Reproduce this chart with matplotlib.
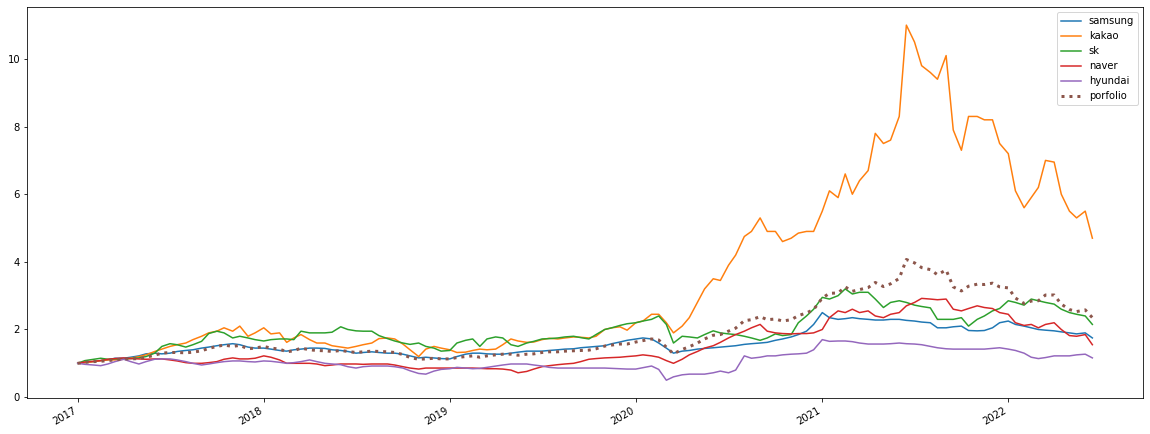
import numpy as np
import pandas as pd
import matplotlib
matplotlib.use('Agg')
import matplotlib.pyplot as plt
import matplotlib.dates as mdates

# semi-monthly sampling dates (1st and 15th), Jan 2017 - Jun 2022
dates = pd.date_range('2017-01-01', '2022-06-15', freq='SMS')

samsung = [
    1.0, 1.02, 1.05, 1.08, 1.1, 1.15, 1.15, 1.18, 1.22, 1.28, 1.3, 1.28,
    1.3, 1.35, 1.38, 1.4, 1.45, 1.48, 1.52, 1.55, 1.58, 1.55, 1.48, 1.45,
    1.45, 1.42, 1.38, 1.36, 1.4, 1.42, 1.45, 1.45, 1.44, 1.4, 1.38, 1.35,
    1.3, 1.32, 1.34, 1.32, 1.3, 1.3, 1.27, 1.22, 1.16, 1.18, 1.16, 1.14,
    1.13, 1.2, 1.27, 1.3, 1.3, 1.28, 1.27, 1.27, 1.3, 1.33, 1.36, 1.36,
    1.36, 1.38, 1.4, 1.42, 1.43, 1.46, 1.48, 1.5, 1.52, 1.58, 1.63, 1.68,
    1.72, 1.75, 1.72, 1.6, 1.45, 1.3, 1.36, 1.38, 1.42, 1.44, 1.46, 1.48,
    1.5, 1.52, 1.56, 1.58, 1.6, 1.62, 1.68, 1.72, 1.78, 1.85, 1.95, 2.15,
    2.5, 2.35, 2.3, 2.32, 2.35, 2.32, 2.3, 2.28, 2.28, 2.3, 2.3, 2.27,
    2.25, 2.22, 2.2, 2.05, 2.05, 2.08, 2.1, 1.97, 1.96, 1.97, 2.05, 2.2,
    2.25, 2.15, 2.1, 2.05, 2.0, 1.98, 1.96, 1.93, 1.9, 1.87, 1.9, 1.75,
]
kakao = [
    1.0, 1.02, 1.05, 1.08, 1.1, 1.1, 1.12, 1.15, 1.2, 1.25, 1.35, 1.42,
    1.5, 1.55, 1.6, 1.7, 1.8, 1.9, 1.95, 2.05, 1.95, 2.1, 1.8, 1.9,
    2.05, 1.87, 1.9, 1.62, 1.75, 1.85, 1.7, 1.6, 1.6, 1.52, 1.48, 1.45,
    1.5, 1.55, 1.6, 1.73, 1.75, 1.72, 1.57, 1.4, 1.2, 1.42, 1.5, 1.45,
    1.4, 1.32, 1.33, 1.38, 1.42, 1.4, 1.42, 1.55, 1.72, 1.66, 1.62, 1.63,
    1.7, 1.74, 1.72, 1.75, 1.78, 1.77, 1.75, 1.8, 2.0, 2.05, 2.08, 1.98,
    2.2, 2.25, 2.45, 2.45, 2.2, 1.9, 2.1, 2.35, 2.8, 3.2, 3.5, 3.45,
    3.9, 4.2, 4.75, 4.9, 5.3, 4.9, 4.9, 4.6, 4.7, 4.85, 4.9, 4.9,
    5.5, 6.1, 5.9, 6.6, 6.0, 6.4, 6.7, 7.8, 7.5, 7.6, 8.3, 11.0,
    10.5, 9.8, 9.6, 9.4, 10.1, 7.9, 7.3, 8.3, 8.3, 8.2, 8.2, 7.5,
    7.2, 6.1, 5.6, 5.9, 6.2, 7.0, 6.95, 6.0, 5.5, 5.3, 5.5, 4.7,
]
sk = [
    1.0, 1.08, 1.12, 1.15, 1.12, 1.13, 1.13, 1.14, 1.16, 1.2, 1.3, 1.5,
    1.58, 1.55, 1.48, 1.55, 1.65, 1.88, 1.95, 1.9, 1.75, 1.8, 1.75, 1.7,
    1.66, 1.7, 1.72, 1.72, 1.7, 1.95, 1.9, 1.9, 1.9, 1.92, 2.08, 2.0,
    1.96, 1.95, 1.95, 1.82, 1.73, 1.66, 1.6, 1.56, 1.6, 1.5, 1.45, 1.36,
    1.38, 1.6, 1.68, 1.72, 1.5, 1.72, 1.78, 1.75, 1.55, 1.5, 1.6, 1.65,
    1.72, 1.73, 1.75, 1.78, 1.8, 1.76, 1.72, 1.85, 2.0, 2.05, 2.12, 2.17,
    2.2, 2.25, 2.3, 2.4, 2.15, 1.6, 1.8, 1.78, 1.75, 1.85, 1.96, 1.9,
    1.87, 1.85, 1.8, 1.75, 1.68, 1.75, 1.87, 1.82, 1.85, 2.2, 2.4, 2.6,
    2.95, 2.9, 3.0, 3.2, 3.05, 3.1, 3.1, 2.9, 2.65, 2.8, 2.85, 2.8,
    2.72, 2.68, 2.64, 2.3, 2.3, 2.3, 2.35, 2.1, 2.3, 2.4, 2.55, 2.62,
    2.85, 2.8, 2.72, 2.9, 2.85, 2.8, 2.75, 2.6, 2.5, 2.45, 2.4, 2.15,
]
naver = [
    1.0, 1.04, 1.06, 1.08, 1.12, 1.14, 1.16, 1.14, 1.13, 1.12, 1.13, 1.13,
    1.1, 1.07, 1.02, 1.0, 1.0, 1.02, 1.05, 1.12, 1.16, 1.13, 1.13, 1.15,
    1.22, 1.18, 1.1, 1.0, 1.0, 1.0, 1.0, 0.98, 0.93, 0.95, 0.98, 0.98,
    0.98, 0.97, 0.98, 0.98, 0.98, 0.95, 0.9, 0.86, 0.83, 0.86, 0.86, 0.86,
    0.86, 0.86, 0.86, 0.86, 0.85, 0.84, 0.84, 0.83, 0.8, 0.72, 0.76, 0.83,
    0.9, 0.93, 0.96, 0.98, 1.0, 1.05, 1.12, 1.14, 1.16, 1.17, 1.18, 1.2,
    1.22, 1.25, 1.22, 1.18, 1.08, 1.0, 1.12, 1.25, 1.35, 1.45, 1.52, 1.62,
    1.75, 1.85, 1.95, 2.05, 2.15, 1.95, 1.9, 1.88, 1.87, 1.88, 1.88, 1.9,
    2.0, 2.35, 2.55, 2.5, 2.6, 2.5, 2.55, 2.4, 2.35, 2.45, 2.5, 2.7,
    2.8, 2.92, 2.9, 2.88, 2.9, 2.6, 2.55, 2.62, 2.7, 2.65, 2.62, 2.5,
    2.45, 2.2, 2.12, 2.15, 2.05, 2.15, 2.2, 2.0, 1.82, 1.8, 1.85, 1.55,
]
hyundai = [
    1.0, 0.97, 0.95, 0.93, 0.98, 1.05, 1.12, 1.05, 0.98, 1.05, 1.12, 1.13,
    1.13, 1.1, 1.05, 1.0, 0.95, 0.98, 1.02, 1.05, 1.07, 1.07, 1.05, 1.04,
    1.07, 1.06, 1.03, 1.0, 1.02, 1.05, 1.1, 1.05, 1.0, 0.98, 0.96, 0.9,
    0.86, 0.9, 0.92, 0.92, 0.92, 0.9, 0.86, 0.78, 0.7, 0.68, 0.77, 0.82,
    0.84, 0.88, 0.86, 0.84, 0.85, 0.88, 0.92, 0.95, 0.98, 0.98, 0.98, 0.95,
    0.92, 0.88, 0.86, 0.86, 0.86, 0.86, 0.86, 0.86, 0.86, 0.85, 0.84, 0.83,
    0.83, 0.87, 0.92, 0.82, 0.5, 0.6, 0.66, 0.68, 0.68, 0.68, 0.72, 0.77,
    0.72, 0.8, 1.22, 1.15, 1.18, 1.22, 1.22, 1.25, 1.27, 1.28, 1.3, 1.4,
    1.7, 1.65, 1.66, 1.66, 1.64, 1.6, 1.57, 1.57, 1.57, 1.58, 1.6, 1.58,
    1.57, 1.55, 1.5, 1.46, 1.43, 1.42, 1.42, 1.42, 1.42, 1.42, 1.44, 1.46,
    1.42, 1.38, 1.3, 1.18, 1.14, 1.17, 1.22, 1.22, 1.22, 1.25, 1.27, 1.16,
]
porfolio = [
    1.0, 1.03, 1.05, 1.06, 1.08, 1.1, 1.13, 1.13, 1.14, 1.18, 1.24, 1.3,
    1.32, 1.32, 1.31, 1.33, 1.37, 1.44, 1.5, 1.54, 1.5, 1.53, 1.43, 1.45,
    1.5, 1.45, 1.42, 1.34, 1.37, 1.45, 1.4, 1.38, 1.37, 1.35, 1.38, 1.35,
    1.32, 1.34, 1.36, 1.35, 1.34, 1.32, 1.26, 1.17, 1.12, 1.13, 1.15, 1.13,
    1.13, 1.17, 1.2, 1.22, 1.18, 1.22, 1.25, 1.27, 1.27, 1.24, 1.27, 1.28,
    1.32, 1.34, 1.34, 1.36, 1.37, 1.38, 1.39, 1.43, 1.51, 1.54, 1.57, 1.57,
    1.63, 1.67, 1.72, 1.69, 1.48, 1.28, 1.41, 1.49, 1.6, 1.72, 1.83, 1.85,
    1.95, 2.04, 2.26, 2.29, 2.38, 2.29, 2.31, 2.25, 2.29, 2.41, 2.49, 2.59,
    2.93, 3.07, 3.08, 3.26, 3.13, 3.18, 3.24, 3.39, 3.27, 3.35, 3.51, 4.07,
    3.97, 3.83, 3.77, 3.62, 3.76, 3.26, 3.14, 3.28, 3.34, 3.33, 3.37, 3.26,
    3.23, 2.93, 2.77, 2.84, 2.85, 3.02, 3.02, 2.75, 2.59, 2.53, 2.58, 2.35,
]

plt.rcParams['font.size'] = 10

fig = plt.figure(figsize=(1150 / 72, 434 / 72), dpi=72)
ax = fig.add_subplot(111)

ax.plot(dates, samsung, label='samsung')
ax.plot(dates, kakao, label='kakao')
ax.plot(dates, sk, label='sk')
ax.plot(dates, naver, label='naver')
ax.plot(dates, hyundai, label='hyundai')
ax.plot(dates, porfolio, label='porfolio', linestyle=':', linewidth=3)

ax.xaxis.set_major_locator(mdates.YearLocator())
ax.xaxis.set_major_formatter(mdates.DateFormatter('%Y'))
ax.legend(loc='upper right')

fig.autofmt_xdate()
fig.subplots_adjust(left=0.0235, right=0.994, top=0.983, bottom=0.083)

fig.savefig('out.png', dpi=72)
